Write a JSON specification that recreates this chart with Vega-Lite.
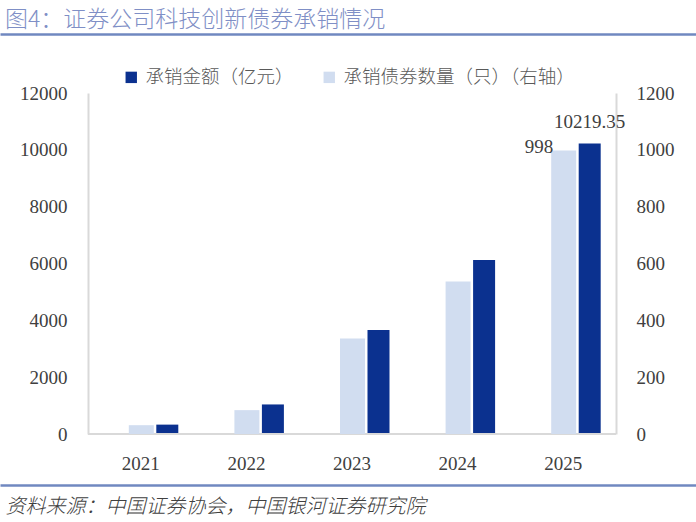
{
  "$schema": "https://vega.github.io/schema/vega-lite/v6.json",
  "width": 696,
  "height": 341,
  "autosize": {"type": "none"},
  "padding": {"left": 0, "top": 93, "right": 0, "bottom": 88},
  "title": {
    "text": "图4：证券公司科技创新债券承销情况",
    "anchor": "start",
    "frame": "group",
    "dx": 5,
    "offset": 2,
    "font": "Noto Sans CJK SC",
    "fontSize": 23,
    "fontWeight": 300,
    "color": "#7f8fc6"
  },
  "data": {
    "values": [
      {"year": "2021", "amount": 330, "count": 31},
      {"year": "2022", "amount": 1040, "count": 84},
      {"year": "2023", "amount": 3660, "count": 336},
      {"year": "2024", "amount": 6125, "count": 537},
      {"year": "2025", "amount": 10219.35, "count": 998}
    ]
  },
  "config": {
    "view": {"stroke": null},
    "axis": {
      "grid": false,
      "ticks": false,
      "labelFont": "Liberation Serif",
      "labelFontSize": 19,
      "labelColor": "#404040",
      "domainColor": "#d9d9d9",
      "domainWidth": 2
    },
    "legend": {"padding": 0}
  },
  "layer": [
    {
      "layer": [
        {
          "mark": {"type": "bar", "width": 22, "xOffset": 26.5},
          "encoding": {
            "x": {
              "field": "year",
              "type": "nominal",
              "scale": {"paddingInner": 0, "paddingOuter": 0.7955, "align": 0.5238, "round": false},
              "axis": {"orient": "top", "offset": 59, "domainColor": "#7088c0", "domainWidth": 2.5, "labels": false, "title": null}
            },
            "y": {
              "field": "amount",
              "type": "quantitative",
              "scale": {"domain": [0, 12000], "nice": false},
              "axis": {"orient": "left", "offset": -88, "values": [0, 2000, 4000, 6000, 8000, 10000, 12000], "format": "d", "labelPadding": 21, "title": null}
            },
            "color": {
              "datum": "承销金额（亿元）",
              "scale": {"domain": ["承销金额（亿元）", "承销债券数量（只）（右轴）"], "range": ["#0b318f", "#d1ddf0"]},
              "legend": {
                "orient": "none",
                "legendX": 122,
                "legendY": -25,
                "direction": "horizontal",
                "title": null,
                "symbolType": "square",
                "symbolSize": 130,
                "symbolStrokeWidth": 0,
                "labelFont": "Noto Sans CJK SC",
                "labelFontSize": 18.5,
                "labelFontWeight": 300,
                "labelColor": "#595959",
                "labelOffset": 5,
                "labelLimit": 0,
                "columnPadding": 26
              }
            }
          }
        },
        {
          "mark": {"type": "rule", "color": "#d9d9d9", "strokeWidth": 2},
          "encoding": {
            "x": {"datum": "2021", "bandPosition": 0},
            "x2": {"datum": "2025", "bandPosition": 1},
            "y": {"datum": 0}
          }
        },
        {
          "mark": {"type": "text", "dy": 29.5, "baseline": "middle", "font": "Liberation Serif", "fontSize": 19, "color": "#404040"},
          "encoding": {
            "x": {"field": "year", "type": "nominal"},
            "y": {"datum": 0},
            "text": {"field": "year"}
          }
        },
        {
          "transform": [{"filter": "datum.year == '2025'"}],
          "mark": {"type": "text", "xOffset": 26.5, "dy": -16, "baseline": "alphabetic", "font": "Liberation Serif", "fontSize": 19, "color": "#404040"},
          "encoding": {
            "x": {"field": "year", "type": "nominal"},
            "y": {"field": "amount", "type": "quantitative"},
            "text": {"field": "amount", "format": ".2f"}
          }
        }
      ]
    },
    {
      "layer": [
        {
          "mark": {"type": "bar", "width": 25, "xOffset": 0.5},
          "encoding": {
            "x": {
              "field": "year",
              "type": "nominal",
              "scale": {"paddingInner": 0, "paddingOuter": 0.7955, "align": 0.5238, "round": false},
              "axis": {
                "orient": "bottom",
                "offset": 51,
                "domainColor": "#7088c0",
                "domainWidth": 2.5,
                "labels": false,
                "title": "资料来源：中国证券协会，中国银河证券研究院",
                "titleAnchor": "start",
                "titleAlign": "left",
                "titleBaseline": "middle",
                "titleX": 5,
                "titleY": 21,
                "titleFont": "Noto Sans CJK SC",
                "titleFontSize": 20,
                "titleFontWeight": 300,
                "titleFontStyle": "italic",
                "titleColor": "#404040"
              }
            },
            "y": {
              "field": "count",
              "type": "quantitative",
              "scale": {"domain": [0, 1200], "nice": false},
              "axis": {"orient": "right", "offset": -80, "values": [0, 200, 400, 600, 800, 1000, 1200], "format": "d", "labelPadding": 20, "title": null}
            },
            "color": {"datum": "承销债券数量（只）（右轴）"}
          }
        },
        {
          "transform": [{"filter": "datum.year == '2025'"}],
          "mark": {"type": "text", "align": "right", "dx": -10, "dy": 3, "baseline": "alphabetic", "font": "Liberation Serif", "fontSize": 19, "color": "#404040"},
          "encoding": {
            "x": {"field": "year", "type": "nominal"},
            "y": {"field": "count", "type": "quantitative"},
            "text": {"field": "count"}
          }
        }
      ]
    }
  ],
  "resolve": {"scale": {"y": "independent"}, "axis": {"x": "independent", "y": "independent"}}
}
